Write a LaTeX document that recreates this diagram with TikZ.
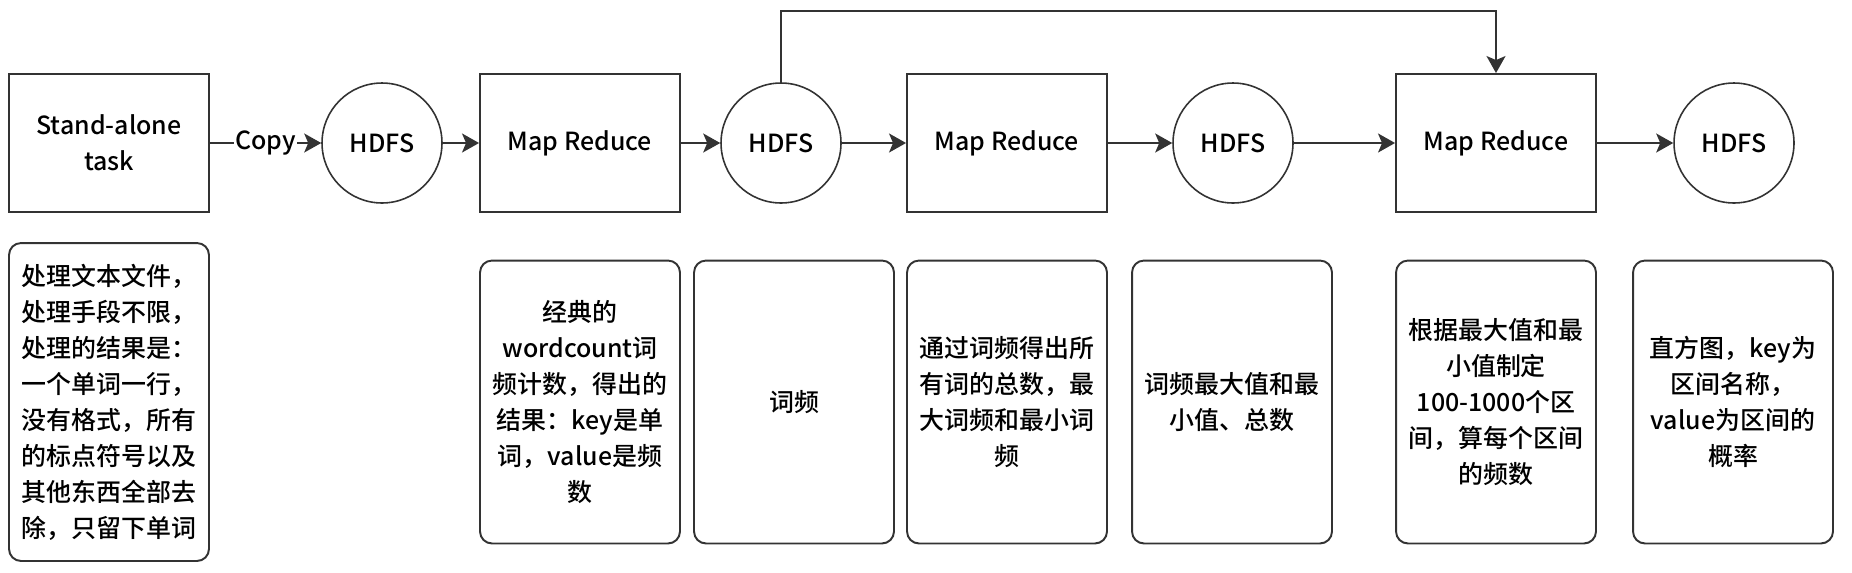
\documentclass[tikz,border=0pt]{standalone}
\usepackage{fontspec}
\setmainfont{Noto Sans CJK SC}[UprightFont=* Medium]
\usetikzlibrary{arrows.meta}
\definecolor{edgegray}{HTML}{333333}
\begin{document}
\begin{tikzpicture}[x=0.02cm,y=-0.02cm,
 every node/.style={font=\fontsize{14.2}{20.5}\selectfont,text=black},
 box/.style={draw=edgegray,line width=1.1pt,minimum width=4cm,minimum height=2.76cm,align=center},
 disk/.style={draw=edgegray,line width=0.9pt,circle,minimum size=2.4cm},
 note/.style={draw=edgegray,line width=1.1pt,rounded corners=0.24cm,minimum width=4cm,minimum height=5.66cm,align=center},
 arr/.style={-{Stealth[length=0.34cm,width=0.38cm,inset=0.08cm]},edgegray,line width=1.1pt}]
 \useasboundingbox (0,0) rectangle (1852,572);
 % 上段
 \node[box] (task) at (109,143) {Stand-alone\\task};
 \node[disk] (hdfs1) at (382,143) {HDFS};
 \node[box] (mr1) at (580,143) {Map Reduce};
 \node[disk] (hdfs2) at (781,143) {HDFS};
 \node[box] (mr2) at (1007,143) {Map Reduce};
 \node[disk] (hdfs3) at (1233,143) {HDFS};
 \node[box] (mr3) at (1496,143) {Map Reduce};
 \node[disk] (hdfs4) at (1734,143) {HDFS};
 \coordinate (loop) at (1496,11); %上の折れ線
 \draw[arr] (task) -- node[fill=white,inner sep=0.5pt]{Copy} (hdfs1);
 \draw[arr] (hdfs1) -- (mr1);
 \draw[arr] (mr1) -- (hdfs2);
 \draw[arr] (hdfs2) -- (mr2);
 \draw[arr] (mr2) -- (hdfs3);
 \draw[arr] (hdfs3) -- (mr3);
 \draw[arr] (mr3) -- (hdfs4);
 \draw[arr] (hdfs2.north) |- (loop) -- (mr3.north);
 % 下段
 \node[note,minimum height=6.36cm] (noteA) at (109,402) {处理文本文件，\\处理手段不限，\\处理的结果是：\\一个单词一行，\\没有格式，所有\\的标点符号以及\\其他东西全部去\\除，只留下单词};
 \node[note] (noteB) at (580,402) {经典的\\wordcount词\\频计数，得出的\\结果：key是单\\词，value是频\\数};
 \node[note] (noteC) at (794,402) {词频};
 \node[note] (noteD) at (1007,402) {通过词频得出所\\有词的总数，最\\大词频和最小词\\频};
 \node[note] (noteE) at (1232,402) {词频最大值和最\\小值、总数};
 \node[note] (noteF) at (1496,402) {根据最大值和最\\小值制定\\100-1000个区\\间，算每个区间\\的频数};
 \node[note] (noteG) at (1733,402) {直方图，key为\\区间名称，\\value为区间的\\概率};
\end{tikzpicture}
\end{document}
